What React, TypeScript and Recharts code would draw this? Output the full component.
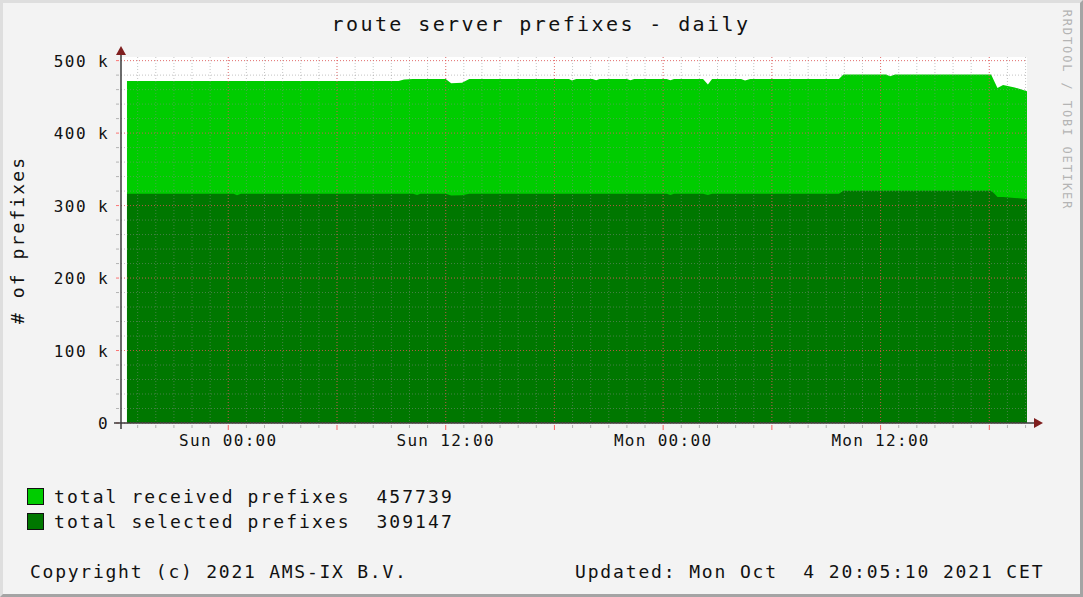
import React from 'react';
import { AreaChart, Area, XAxis, YAxis, CartesianGrid } from 'recharts';

// hours relative to Sun 00:00
const hours = [
  -5.59, -2.0, 0.3, 0.48, 0.7, 4.0, 9.4, 9.7, 10.2, 10.42, 10.6, 12.0, 12.3, 12.9, 13.3, 16.0,
  18.8, 18.97, 19.2, 20.1, 20.3, 20.5, 22.0, 22.2, 22.4, 24.2, 24.4, 24.6, 26.2, 26.47, 26.7,
  28.3, 28.52, 28.8, 33.7, 33.95, 36.3, 36.52, 36.8, 40.0, 42.1, 42.3, 42.45, 42.76, 43.4, 44.08,
];
const received = [
  472000, 472000, 472000, 472000, 472000, 472000, 472000, 474000, 474700, 474700, 474700, 474700, 468800, 469500, 474700, 474700,
  474700, 472500, 474700, 474700, 473000, 474700, 474700, 473000, 474700, 474700, 472800, 474700, 474700, 467000, 474700,
  474700, 472500, 474700, 474700, 481000, 481000, 478500, 481000, 481000, 481000, 470000, 462300, 466400, 463000, 457739,
];
const selected = [
  316300, 316300, 316300, 314200, 316300, 316300, 316300, 316300, 316300, 314500, 316300, 316300, 314000, 314300, 316300, 316300,
  316300, 316300, 316300, 316300, 316300, 316300, 316300, 316300, 316300, 316300, 314500, 316300, 316300, 314500, 316300,
  316300, 316300, 316300, 316300, 320400, 320400, 320400, 320400, 320400, 320400, 316000, 311700, 311700, 310500, 309147,
];

const labelHours = [0, 12, 24, 36];
const labelTexts = ['Sun 00:00', 'Sun 12:00', 'Mon 00:00', 'Mon 12:00'];
const yMajor = [0, 100000, 200000, 300000, 400000, 500000];

const seriesNames = ['total received prefixes', 'total selected prefixes'];
const lastValues = ['457739', '309147'];
const colors = ['#00cc00', '#007700'];

const data = hours.map((t, i) => ({ t, received: received[i], selected: selected[i] }));

const hourTicks = Array.from({ length: 50 }, (_, i) => i - 5);
const yMinor = Array.from({ length: 26 }, (_, i) => i * 20000);
const hourMajor = hourTicks.filter((h) => h % 6 === 0);

const FONT = '"DejaVu Sans Mono", monospace';

const XTick = (props: any) => {
  const { x, y, payload } = props;
  const h = payload.value;
  const major = h % 6 === 0;
  const idx = labelHours.indexOf(h);
  return (
    <g>
      <line x1={x} x2={x} y1={y} y2={y + (major ? 5 : 3)} stroke={major ? '#ff4040' : '#999'} strokeOpacity={major ? 0.8 : 0.7} />
      {idx >= 0 && (
        <text x={x} y={y + 21} textAnchor="middle" fontFamily={FONT} fontSize={16} letterSpacing={1.3} fill="#111">
          {labelTexts[idx]}
        </text>
      )}
    </g>
  );
};

const YTick = (props: any) => {
  const { x, y, payload } = props;
  const v = payload.value;
  const major = v % 100000 === 0;
  return (
    <g>
      <line x1={x - 3} x2={x} y1={y} y2={y} stroke={major ? '#ff4040' : '#999'} strokeOpacity={0.7} />
      {major && (
        <text x={x - 10} y={y + 6} textAnchor="end" fontFamily={FONT} fontSize={16} letterSpacing={1.4} fill="#111">
          {v === 0 ? '0' : `${v / 1000} k`}
        </text>
      )}
    </g>
  );
};

const App: React.FC = () => {
  return (
    <div style={{ position: 'absolute', left: 0, top: 0, width: 1083, height: 597, background: '#f3f3f3', overflow: 'hidden', fontFamily: FONT }}>
      <div style={{ position: 'absolute', inset: 0, borderTop: '3px solid #dedede', borderLeft: '3px solid #dedede', borderRight: '3px solid #a4a4a4', borderBottom: '3px solid #a4a4a4' }} />
      <div style={{ position: 'absolute', left: 0, top: 0 }}>
        <AreaChart width={1083} height={597} data={data} margin={{ top: 57, right: 56, bottom: 144, left: 21 }}>
          <CartesianGrid horizontal={false} vertical={false} fill="#ffffff" />
          <Area type="linear" dataKey="received" stroke="none" fill={colors[0]} fillOpacity={1} isAnimationActive={false} />
          <Area type="linear" dataKey="selected" stroke="none" fill={colors[1]} fillOpacity={1} isAnimationActive={false} />
          <CartesianGrid
            horizontalValues={yMinor}
            verticalValues={hourTicks}
            stroke="#8c8c8c"
            strokeOpacity={0.5}
            strokeDasharray="1 2"
            zIndex={600}
          />
          <CartesianGrid
            horizontalValues={yMajor}
            verticalValues={hourMajor}
            stroke="#ff3c3c"
            strokeOpacity={0.6}
            strokeDasharray="1 2"
            zIndex={601}
          />
          <XAxis
            dataKey="t"
            type="number"
            domain={[-5.92, 44.08]}
            allowDataOverflow
            ticks={hourTicks}
            interval={0}
            height={30}
            tickSize={0}
            tickLine={false}
            axisLine={false}
            tick={<XTick />}
          />
          <YAxis
            type="number"
            domain={[0, 505000]}
            allowDataOverflow
            ticks={yMinor}
            interval={0}
            width={100}
            tickSize={0}
            tickLine={false}
            axisLine={false}
            tick={<YTick />}
          />
        </AreaChart>
      </div>
      <svg width={1083} height={597} style={{ position: 'absolute', left: 0, top: 0, pointerEvents: 'none' }}>
        <line x1={121} x2={121} y1={429} y2={52} stroke="#3c3c3c" strokeWidth={1.5} />
        <polygon points="116,55 126,55 121,46" fill="#7f1f1f" />
        <line x1={114} x2={1036} y1={423} y2={423} stroke="#3c3c3c" strokeWidth={1.5} />
        <polygon points="1034,418 1034,428 1043,423" fill="#7f1f1f" />
        <text x={541} y={31} textAnchor="middle" fontFamily={FONT} fontSize={20} letterSpacing={2.4} fill="#111">
          route server prefixes - daily
        </text>
        <text transform="translate(24,240) rotate(-90)" textAnchor="middle" fontFamily={FONT} fontSize={18} letterSpacing={2.1} fill="#111">
          # of prefixes
        </text>
        <text transform="translate(1063,110) rotate(90)" textAnchor="middle" fontFamily={FONT} fontSize={12} letterSpacing={1.9} fill="#b4b4b4">
          RRDTOOL / TOBI OETIKER
        </text>
      </svg>
      {seriesNames.map((name, i) => (
        <div key={name} style={{ position: 'absolute', left: 27, top: 486 + i * 25, height: 20, display: 'flex', alignItems: 'center' }}>
          <div style={{ width: 15, height: 15, background: colors[i], border: '1px solid #111' }} />
          <span style={{ marginLeft: 10, fontSize: 18, letterSpacing: 2.06, whiteSpace: 'pre', color: '#111' }}>
            {`${name}  ${lastValues[i]}`}
          </span>
        </div>
      ))}
      <div style={{ position: 'absolute', left: 30, top: 561, fontSize: 18, letterSpacing: 1.75, whiteSpace: 'pre', color: '#111' }}>
        Copyright (c) 2021 AMS-IX B.V.
      </div>
      <div style={{ position: 'absolute', left: 575, top: 561, fontSize: 18, letterSpacing: 1.85, whiteSpace: 'pre', color: '#111' }}>
        {'Updated: Mon Oct  4 20:05:10 2021 CET'}
      </div>
    </div>
  );
};

export default App;
